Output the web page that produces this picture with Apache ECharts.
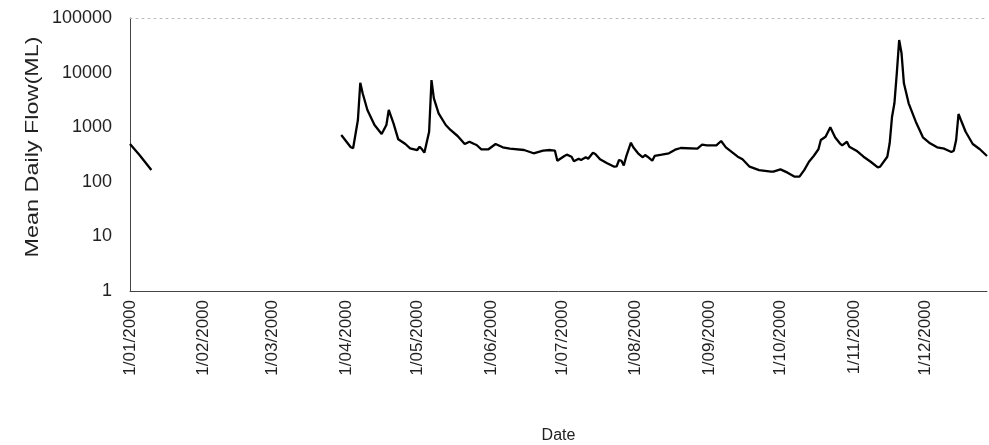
<!DOCTYPE html>
<html>
<head>
<meta charset="utf-8">
<script src="https://cdn.jsdelivr.net/npm/echarts@6/dist/echarts.min.js"></script>
<style>
html,body{margin:0;padding:0;background:#fff;}
#c{width:989px;height:445px;}
</style>
</head>
<body>
<div id="c"></div>
<script>
// Tick marks (first of each month) and their labels
const monthTicks = ['2000-01-01','2000-02-01','2000-03-01','2000-04-01','2000-05-01','2000-06-01','2000-07-01','2000-08-01','2000-09-01','2000-10-01','2000-11-01','2000-12-01'];
const monthTickLabels = ['1/01/2000','1/02/2000','1/03/2000','1/04/2000','1/05/2000','1/06/2000','1/07/2000','1/08/2000','1/09/2000','1/10/2000','1/11/2000','1/12/2000'];
const yTickLabels = ['1','10','100','1000','10000','100000'];

// Early January segment
const janDates = ['2000-01-01','2000-01-05','2000-01-10'];
const janFlow  = [490, 310, 165];

// Main segment (late March - December)
const mainDates = ['2000-03-30','2000-04-03','2000-04-04','2000-04-06','2000-04-07','2000-04-08','2000-04-10','2000-04-13','2000-04-16','2000-04-18','2000-04-19','2000-04-21','2000-04-23','2000-04-26','2000-04-28','2000-05-01','2000-05-02','2000-05-03','2000-05-04','2000-05-06','2000-05-07','2000-05-08','2000-05-10','2000-05-13','2000-05-15','2000-05-18','2000-05-21','2000-05-23','2000-05-25','2000-05-26','2000-05-28','2000-05-31','2000-06-03','2000-06-06','2000-06-09','2000-06-15','2000-06-19','2000-06-23','2000-06-26','2000-06-28','2000-06-29','2000-07-02','2000-07-03','2000-07-05','2000-07-06','2000-07-08','2000-07-09','2000-07-11','2000-07-12','2000-07-14','2000-07-15','2000-07-17','2000-07-20','2000-07-23','2000-07-24','2000-07-25','2000-07-26','2000-07-27','2000-07-28','2000-07-30','2000-07-31','2000-08-02','2000-08-04','2000-08-05','2000-08-06','2000-08-08','2000-08-09','2000-08-12','2000-08-15','2000-08-18','2000-08-20','2000-08-27','2000-08-29','2000-08-31','2000-09-04','2000-09-06','2000-09-08','2000-09-13','2000-09-15','2000-09-18','2000-09-22','2000-09-27','2000-09-28','2000-10-01','2000-10-04','2000-10-07','2000-10-09','2000-10-11','2000-10-13','2000-10-15','2000-10-17','2000-10-18','2000-10-20','2000-10-22','2000-10-24','2000-10-26','2000-10-27','2000-10-29','2000-10-30','2000-11-02','2000-11-05','2000-11-08','2000-11-11','2000-11-12','2000-11-15','2000-11-16','2000-11-17','2000-11-18','2000-11-19','2000-11-20','2000-11-21','2000-11-22','2000-11-24','2000-11-27','2000-11-30','2000-12-03','2000-12-06','2000-12-09','2000-12-12','2000-12-13','2000-12-14','2000-12-15','2000-12-16','2000-12-18','2000-12-21','2000-12-24','2000-12-27'];
const mainFlow = [720,430,415,1355,6530,4180,2065,1097,751,1097,2065,1178,600,492,411,382,439,394,341,827,7310,3380,1797,1097,889,690,492,542,492,472,394,394,492,428,404,382,333,371,382,371,243,297,314,288,237,265,251,281,265,341,323,258,218,189,192,251,243,200,288,520,428,333,281,310,288,243,297,314,333,394,416,404,478,466,466,559,428,288,258,189,164,153,153,169,147,124,124,164,233,297,394,583,670,996,653,507,466,542,439,371,288,233,184,189,288,507,1557,2740,9710,39550,22560,6370,2740,1262,653,507,428,404,351,371,583,1745,1355,827,492,394,297];

const axisStart = '2000-01-01';
const axisEnd = '2000-12-27';

// day number counted from 1 Jan 2000
function dayNo(s){ const p = s.split('-').map(Number); return Math.round((Date.UTC(p[0], p[1]-1, p[2]) - Date.UTC(2000,0,1)) / 86400000); }
const tickDays = monthTicks.map(dayNo);
function labelFor(v){ const i = tickDays.indexOf(Math.round(v)); return i >= 0 ? monthTickLabels[i] : ''; }
function pairs(dates, vals){ return dates.map((d,i)=>[dayNo(d), vals[i]]); }

const FONT = '"Liberation Sans", Arial, sans-serif';
const chart = echarts.init(document.getElementById('c'), null, {renderer:'canvas'});
chart.setOption({
  animation: false,
  backgroundColor: '#fff',
  grid: {left: 130, right: 2, top: 18, bottom: 154, containLabel: false, outerBoundsMode: 'none'},
  xAxis: [{
    type: 'value',
    min: dayNo(axisStart), max: dayNo(axisEnd),
    position: 'bottom',
    axisLine: {show: true, lineStyle: {color: '#444', width: 1}},
    axisTick: {show: false},
    splitLine: {show: false},
    axisLabel: {
      customValues: tickDays,
      formatter: (v) => labelFor(v),
      rotate: 90, fontSize: 17, margin: 9, color: '#222', fontFamily: FONT,
      hideOverlap: false, showMinLabel: true, showMaxLabel: true
    },
    name: 'Date', nameLocation: 'middle', nameGap: 137,
    nameTextStyle: {fontSize: 16, color: '#222', fontFamily: FONT}
  }, {
    type: 'value',
    min: dayNo(axisStart), max: dayNo(axisEnd),
    position: 'top',
    axisLine: {show: true, lineStyle: {color: '#bbb', width: 1, type: [2, 4]}},
    axisTick: {show: false}, axisLabel: {show: false}, splitLine: {show: false}
  }],
  yAxis: {
    type: 'log', logBase: 10, min: 1, max: 100000,
    axisLine: {show: true, lineStyle: {color: '#444', width: 1}},
    axisTick: {show: false},
    splitLine: {show: false},
    axisLabel: {
      formatter: (v) => yTickLabels[Math.round(Math.log10(v))] || '',
      fontSize: 18, margin: 18, color: '#222', fontFamily: FONT
    }
  },
  graphic: [{
    type: 'text', x: 33, y: 147, rotation: Math.PI / 2, scaleX: 1.3,
    style: {text: 'Mean Daily Flow(ML)', font: '18px ' + FONT, fill: '#222',
            textAlign: 'center', textVerticalAlign: 'middle', align: 'center', verticalAlign: 'middle'}
  }],
  series: [{
    type: 'line', xAxisIndex: 0, data: pairs(janDates, janFlow),
    showSymbol: false, lineStyle: {color: '#000', width: 2.3}
  }, {
    type: 'line', xAxisIndex: 0, data: pairs(mainDates, mainFlow),
    showSymbol: false, lineStyle: {color: '#000', width: 2.3}
  }]
});
</script>
</body>
</html>
